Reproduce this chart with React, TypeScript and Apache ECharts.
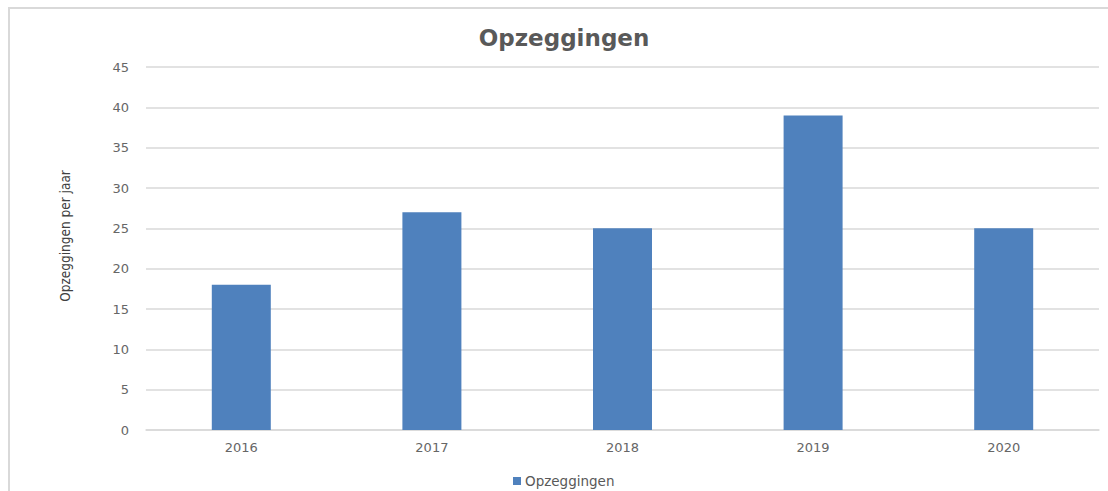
import React, { useEffect, useRef } from "react";
import * as echarts from "echarts";

const categories = ["2016", "2017", "2018", "2019", "2020"];
const values = [18, 27, 25, 39, 25];
const seriesName = "Opzeggingen";
const titleText = "Opzeggingen";
const yAxisName = "Opzeggingen per jaar";

export default function App() {
  const ref = useRef<HTMLDivElement>(null);
  useEffect(() => {
    if (!ref.current) return;
    const chart = echarts.init(ref.current, undefined, { renderer: "svg" });
    const font = "'DejaVu Sans', 'Noto Sans', sans-serif";
    chart.setOption({
      animation: false,
      title: {
        text: titleText,
        left: 559,
        top: 21,
        textAlign: "center",
        textStyle: { fontSize: 23, fontWeight: "bold", color: "#595959", fontFamily: font },
      },
      legend: {
        data: [seriesName],
        left: 508,
        top: 469,
        itemWidth: 8,
        itemHeight: 8,
        itemGap: 4,
        icon: "rect",
        textStyle: { fontSize: 13.5, color: "#595959", fontFamily: font, padding: [0, 0, 0, -1] },
      },
      grid: { left: 146, right: 9, top: 67, bottom: 61, containLabel: false },
      graphic: [
        {
          type: "text",
          x: 65,
          y: 236,
          rotation: Math.PI / 2,
          style: {
            text: yAxisName,
            fill: "#404040",
            fontSize: 13.5,
            fontFamily: "'DejaVu Sans Condensed', 'Liberation Sans Narrow', 'Open Sans', sans-serif",
            align: "center",
            verticalAlign: "middle",
          },
        },
      ],
      xAxis: {
        type: "category",
        data: categories,
        axisLine: { show: true, lineStyle: { color: "#d9d9d9", width: 1.5 } },
        axisTick: { show: false },
        axisLabel: { color: "#666666", fontSize: 13, fontFamily: font, margin: 11 },
      },
      yAxis: {
        type: "value",
        min: 0,
        max: 45,
        interval: 5,
        axisLine: { show: false },
        axisTick: { show: false },
        axisLabel: { color: "#666666", fontSize: 13, fontFamily: font, margin: 17 },
        splitLine: { lineStyle: { color: "#d9d9d9", width: 1.5 } },
      },
      series: [
        {
          name: seriesName,
          type: "bar",
          data: values,
          barWidth: 59,
          itemStyle: { color: "#4f81bd" },
        },
      ],
    });
    return () => chart.dispose();
  }, []);
  return (
    <div style={{ position: "absolute", left: 0, top: 0, width: 1108, height: 491, overflow: "hidden", background: "#fff" }}>
      <div
        style={{
          position: "absolute",
          left: 8,
          top: 7,
          width: 1120,
          height: 520,
          border: "2px solid #d9d9d9",
          boxSizing: "border-box",
        }}
      />
      <div ref={ref} style={{ position: "absolute", left: 0, top: 0, width: 1108, height: 491 }} />
    </div>
  );
}
